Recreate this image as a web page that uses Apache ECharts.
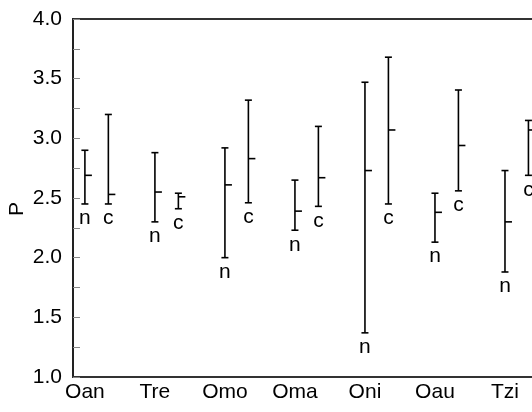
<!DOCTYPE html>
<html>
<head>
<meta charset="utf-8">
<script src="https://cdn.jsdelivr.net/npm/echarts@6/dist/echarts.min.js"></script>
<style>html,body{margin:0;padding:0;background:#fff}#c{width:532px;height:412px}</style>
</head>
<body>
<div id="c"></div>
<script>
var categories = ['Oan', 'Tre', 'Omo', 'Oma', 'Oni', 'Oau', 'Tzi'];
var nLow  = [2.45, 2.30, 2.00, 2.23, 1.37, 2.13, 1.88];
var nMean = [2.69, 2.55, 2.61, 2.39, 2.73, 2.38, 2.30];
var nHigh = [2.90, 2.88, 2.92, 2.65, 3.47, 2.54, 2.73];
var cLow  = [2.45, 2.41, 2.46, 2.43, 2.45, 2.56, 2.69];
var cMean = [2.53, 2.51, 2.83, 2.67, 3.07, 2.94, 3.07];
var cHigh = [3.20, 2.54, 3.32, 3.10, 3.68, 3.405, 3.15];
var groupLabels = ['n', 'c'];
var yTicks = [1.0, 1.5, 2.0, 2.5, 3.0, 3.5, 4.0];
var yTitle = 'P';

var FONT = 'Liberation Sans, Arial, sans-serif';
var FS = 21;
var data = [];
for (var i = 0; i < categories.length; i++) {
  data.push([i + 1, nLow[i], nMean[i], nHigh[i], 0]);
  data.push([i + 1 + 0.335, cLow[i], cMean[i], cHigh[i], 1]);
}

function renderItem(params, api) {
  var x = api.value(0);
  var lo = api.coord([x, api.value(1)]);
  var me = api.coord([x, api.value(2)]);
  var hi = api.coord([x, api.value(3)]);
  var st = {stroke: '#000', lineWidth: 1.6};
  var cw = 3.5;
  return {
    type: 'group',
    children: [
      {type: 'line', shape: {x1: lo[0], y1: lo[1], x2: hi[0], y2: hi[1]}, style: st},
      {type: 'line', shape: {x1: lo[0] - cw, y1: lo[1], x2: lo[0] + cw, y2: lo[1]}, style: st},
      {type: 'line', shape: {x1: hi[0] - cw, y1: hi[1], x2: hi[0] + cw, y2: hi[1]}, style: st},
      {type: 'line', shape: {x1: me[0], y1: me[1], x2: me[0] + 7, y2: me[1]}, style: st},
      {type: 'text', x: lo[0], y: lo[1] + 4, style: {
        text: groupLabels[api.value(4)], fill: '#000', font: FS + 'px ' + FONT,
        align: 'center', verticalAlign: 'top'
      }}
    ]
  };
}

var chart = echarts.init(document.getElementById('c'), null, {renderer: 'canvas'});
chart.setOption({
  animation: false,
  backgroundColor: '#fff',
  grid: {left: 73, top: 19, width: 537, height: 358, outerBoundsMode: 'none', containLabel: false,
    show: true, borderColor: '#333', borderWidth: 2, backgroundColor: 'transparent'},
  graphic: [{
    type: 'text', x: 17, y: 209, rotation: Math.PI / 2,
    style: {text: yTitle, fill: '#000', font: FS + 'px ' + FONT, align: 'center', verticalAlign: 'middle'}
  }],
  xAxis: {
    type: 'value', min: 0.83, max: 8.5,
    axisLine: {show: true, lineStyle: {color: '#333', width: 2}},
    axisTick: {show: false},
    splitLine: {show: false},
    axisLabel: {
      customValues: [1, 2, 3, 4, 5, 6, 7],
      formatter: function (v) { return categories[Math.round(v) - 1] || ''; },
      color: '#000', fontSize: FS, fontFamily: FONT, margin: 5
    }
  },
  yAxis: {
    type: 'value', min: yTicks[0], max: yTicks[yTicks.length - 1], interval: 0.5,
    axisLine: {show: true, lineStyle: {color: '#222', width: 2}},
    axisTick: {show: true, inside: true, length: 7, lineStyle: {color: '#888', width: 1}},
    minorTick: {show: true, splitNumber: 2, length: 7, lineStyle: {color: '#888', width: 1}},
    splitLine: {show: false},
    axisLabel: {color: '#000', fontSize: FS, fontFamily: FONT, margin: 11,
      formatter: function (v) { return v.toFixed(1); }}
  },
  series: [{
    type: 'custom',
    renderItem: renderItem,
    encode: {x: 0, y: [1, 2, 3]},
    data: data,
    clip: false
  }]
});
</script>
</body>
</html>
